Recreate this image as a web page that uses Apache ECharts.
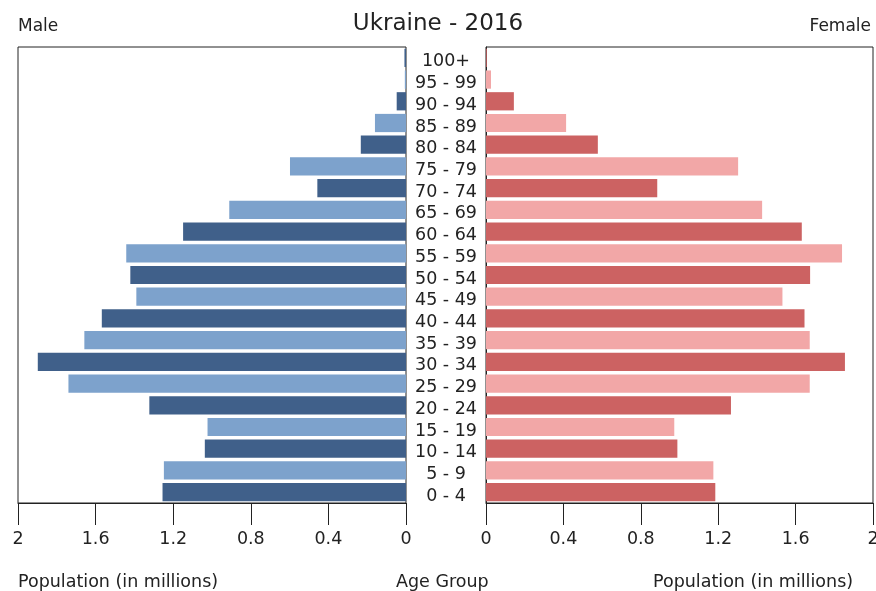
<!DOCTYPE html>
<html>
<head>
<meta charset="utf-8">
<script src="https://cdn.jsdelivr.net/npm/echarts@6/dist/echarts.min.js"></script>
<style>html,body{margin:0;padding:0;background:#fff}#c{width:876px;height:591px}</style>
</head>
<body>
<div id="c"></div>
<script>
const ageGroups = ['0 - 4','5 - 9','10 - 14','15 - 19','20 - 24','25 - 29','30 - 34','35 - 39','40 - 44','45 - 49','50 - 54','55 - 59','60 - 64','65 - 69','70 - 74','75 - 79','80 - 84','85 - 89','90 - 94','95 - 99','100+'];
const maleValues = [1.255,1.248,1.037,1.023,1.323,1.740,1.898,1.658,1.568,1.390,1.421,1.442,1.149,0.911,0.457,0.598,0.233,0.160,0.048,0.006,0.008];
const femaleValues = [1.185,1.175,0.989,0.973,1.266,1.673,1.855,1.673,1.646,1.532,1.675,1.840,1.632,1.427,0.885,1.303,0.578,0.414,0.144,0.026,0.004];
const xTicks = [0,0.4,0.8,1.2,1.6,2];

const FONT = 'DejaVu Sans';
const TXT = '#222';
const maleColors = ['#40608a','#7da2cc'];
const femaleColors = ['#cc6262','#f2a7a7'];

const chart = echarts.init(document.getElementById('c'), null, {renderer:'canvas'});
const xAxisBase = {
  type:'value', min:0, max:2, interval:0.4,
  splitLine:{show:false},
  axisLine:{show:true, onZero:false, lineStyle:{color:TXT, width:1}},
  axisTick:{show:true, length:22, lineStyle:{color:TXT, width:1}},
  axisLabel:{color:TXT, fontFamily:FONT, fontSize:17.5, margin:27,
    formatter: v => String(Math.round(v*10)/10), showMaxLabel:true, showMinLabel:true}
};
chart.setOption({
  animation:false,
  backgroundColor:'#fff',
  grid:[
    {left:18, right:470, top:47, bottom:88, outerBoundsMode:'none', containLabel:false, show:true, borderColor:TXT, borderWidth:1, backgroundColor:'#fff'},
    {left:486, right:3, top:47, bottom:88, outerBoundsMode:'none', containLabel:false, show:true, borderColor:TXT, borderWidth:1, backgroundColor:'#fff'},
    {left:486, right:3, top:51, bottom:84, outerBoundsMode:'none', containLabel:false, show:false}
  ],
  xAxis:[
    Object.assign({}, xAxisBase, {gridIndex:0, inverse:true}),
    Object.assign({}, xAxisBase, {gridIndex:1}),
    {type:'value', gridIndex:2, min:0, max:2, show:false}
  ],
  yAxis:[
    {type:'category', gridIndex:0, data:ageGroups, position:'right',
      axisLine:{show:false}, axisTick:{show:false}, axisLabel:{show:false}},
    {type:'category', gridIndex:1, data:ageGroups, position:'left',
      axisLine:{show:true, lineStyle:{color:TXT,width:1}}, axisTick:{show:false}, axisLabel:{show:false}},
    {type:'category', gridIndex:2, data:ageGroups, position:'left',
      axisLine:{show:false}, axisTick:{show:false}, splitLine:{show:false},
      axisLabel:{show:true, interval:0, color:TXT, fontFamily:FONT, fontSize:17.5, align:'center', margin:40}}
  ],
  series:[
    {type:'bar', xAxisIndex:0, yAxisIndex:0, data:maleValues, barCategoryGap:'16%',
      itemStyle:{color: p => maleColors[p.dataIndex % 2]}},
    {type:'bar', xAxisIndex:1, yAxisIndex:1, data:femaleValues, barCategoryGap:'16%',
      itemStyle:{color: p => femaleColors[p.dataIndex % 2]}}
  ],
  graphic:[
    {type:'text', left:'center', top:13, style:{text:'Ukraine - 2016', font:'23px "DejaVu Sans"', fill:TXT}},
    {type:'text', left:18, top:18, style:{text:'Male', font:'17px "DejaVu Sans"', fill:TXT}},
    {type:'text', right:5, top:18, style:{text:'Female', font:'17px "DejaVu Sans"', fill:TXT}},
    {type:'text', left:18, top:573, style:{text:'Population (in millions)', font:'17.5px "DejaVu Sans"', fill:TXT}},
    {type:'text', left:396, top:573, style:{text:'Age Group', font:'17.5px "DejaVu Sans"', fill:TXT}},
    {type:'text', left:653, top:573, style:{text:'Population (in millions)', font:'17.5px "DejaVu Sans"', fill:TXT}}
  ]
});
</script>
</body>
</html>
